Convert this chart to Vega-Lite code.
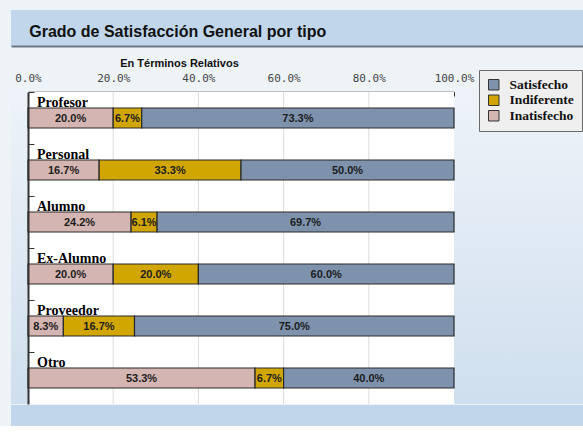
{
  "$schema": "https://vega.github.io/schema/vega-lite/v6.json",
  "background": "#eef3f8",
  "padding": {"left": 8, "top": 10, "right": 0, "bottom": 0},
  "config": {
    "view": {"stroke": null},
    "axisX": {"domainColor": "#333333", "domainWidth": 1.5, "tickColor": "#333333", "tickSize": -4, "labelFont": "DejaVu Sans Mono", "labelFontSize": 11, "labelColor": "#444444", "labelPadding": 13, "labelFlush": false, "grid": false, "titleFont": "Liberation Sans", "titleFontSize": 11, "titleFontWeight": "bold", "titleColor": "#111111"},
    "axisY": {"domainColor": "#333333", "domainWidth": 2, "tickColor": "#333333", "tickSize": -6, "labels": false, "grid": false, "title": null}
  },
  "datasets": {
    "satisf": [
      {"tipo": "Profesor", "nivel": "Inatisfecho", "valor": 0.2},
      {"tipo": "Profesor", "nivel": "Indiferente", "valor": 0.067},
      {"tipo": "Profesor", "nivel": "Satisfecho", "valor": 0.733},
      {"tipo": "Personal", "nivel": "Inatisfecho", "valor": 0.167},
      {"tipo": "Personal", "nivel": "Indiferente", "valor": 0.333},
      {"tipo": "Personal", "nivel": "Satisfecho", "valor": 0.5},
      {"tipo": "Alumno", "nivel": "Inatisfecho", "valor": 0.242},
      {"tipo": "Alumno", "nivel": "Indiferente", "valor": 0.061},
      {"tipo": "Alumno", "nivel": "Satisfecho", "valor": 0.697},
      {"tipo": "Ex-Alumno", "nivel": "Inatisfecho", "valor": 0.2},
      {"tipo": "Ex-Alumno", "nivel": "Indiferente", "valor": 0.2},
      {"tipo": "Ex-Alumno", "nivel": "Satisfecho", "valor": 0.6},
      {"tipo": "Proveedor", "nivel": "Inatisfecho", "valor": 0.083},
      {"tipo": "Proveedor", "nivel": "Indiferente", "valor": 0.167},
      {"tipo": "Proveedor", "nivel": "Satisfecho", "valor": 0.75},
      {"tipo": "Otro", "nivel": "Inatisfecho", "valor": 0.533},
      {"tipo": "Otro", "nivel": "Indiferente", "valor": 0.067},
      {"tipo": "Otro", "nivel": "Satisfecho", "valor": 0.4}
    ],
    "grid": [{"g": 0.2}, {"g": 0.4}, {"g": 0.6}, {"g": 0.8}]
  },
  "spacing": 11,
  "vconcat": [
    {
      "width": 575,
      "height": 36,
      "view": {"fill": "#c1d6ea", "stroke": null},
      "title": {"text": "Grado de Satisfacción General por tipo", "anchor": "start", "offset": -30, "dx": 21, "font": "Liberation Sans", "fontSize": 16, "fontWeight": "bold", "color": "#111111"},
      "data": {"values": [{"h": 0}]},
      "mark": {"type": "point", "opacity": 0},
      "encoding": {
        "x": {"field": "h", "type": "quantitative", "scale": {"domain": [0, 1]}, "axis": {"orient": "bottom", "domain": true, "domainColor": "#6b7888", "domainWidth": 2, "ticks": false, "labels": false, "grid": false, "title": null}}
      }
    },
    {
      "spacing": 0,
      "vconcat": [
        {
          "width": 575,
          "height": 312,
          "view": {"fill": {"gradient": "linear", "x1": 0, "y1": 0, "x2": 0, "y2": 1, "stops": [{"offset": 0, "color": "#eef3f9"}, {"offset": 1, "color": "#cfdfee"}]}, "stroke": null},
          "data": {"name": "satisf"},
          "layer": [
            {
              "transform": [{"filter": "datum.nivel === 'Satisfecho'"}],
              "mark": {"type": "rect", "fill": "#ffffff"},
              "encoding": {
                "y": {"field": "tipo", "type": "nominal", "sort": ["Profesor", "Personal", "Alumno", "Ex-Alumno", "Proveedor", "Otro"], "scale": {"paddingInner": 0, "paddingOuter": 0}, "axis": {"offset": -17, "bandPosition": 0}},
                "x": {"datum": 0, "type": "quantitative", "title": "En Términos Relativos", "scale": {"domain": [0, 1], "range": [17, 443], "nice": false, "zero": false}},
                "x2": {"datum": 1}
              }
            },
            {
              "data": {"name": "grid"},
              "mark": {"type": "rule", "color": "#dcdcdc", "strokeWidth": 1},
              "encoding": {
                "x": {"field": "g", "type": "quantitative", "title": "En Términos Relativos"}
              }
            },
            {
              "transform": [
                {"stack": "valor", "groupby": ["tipo"], "sort": [{"field": "nivel", "order": "ascending"}], "as": ["v0", "v1"]}
              ],
              "mark": {"type": "bar", "height": 20, "stroke": "#2a2a2a", "strokeWidth": 1.2},
              "encoding": {
                "y": {"field": "tipo", "type": "nominal", "sort": ["Profesor", "Personal", "Alumno", "Ex-Alumno", "Proveedor", "Otro"]},
                "x": {"field": "v0", "type": "quantitative", "title": "En Términos Relativos", "axis": {"orient": "top", "values": [0, 0.1, 0.2, 0.3, 0.4, 0.5, 0.6, 0.7, 0.8, 0.9, 1], "format": ".1%", "labelExpr": "round(datum.value * 10) % 2 === 0 ? datum.label : ''", "titleX": 168, "titleY": -26, "titleBaseline": "alphabetic", "titleAlign": "center", "titleAnchor": null}},
                "x2": {"field": "v1"},
                "color": {
                  "field": "nivel",
                  "type": "nominal",
                  "scale": {"domain": ["Satisfecho", "Indiferente", "Inatisfecho"], "range": ["#7e92ad", "#d2a600", "#d4b5b1"]},
                  "legend": {"title": null, "orient": "none", "legendX": 468, "legendY": 60, "fillColor": "#efefef", "strokeColor": "#6a6a6a", "padding": 8, "symbolType": "square", "symbolSize": 110, "symbolStrokeColor": "#333333", "symbolStrokeWidth": 1, "symbolOpacity": 1, "labelFont": "Liberation Serif", "labelFontWeight": "bold", "labelFontSize": 13.5, "labelColor": "#111111", "rowPadding": 0.5, "labelOffset": 9}
                }
              }
            },
            {
              "transform": [
                {"stack": "valor", "groupby": ["tipo"], "sort": [{"field": "nivel", "order": "ascending"}], "as": ["v0", "v1"]},
                {"calculate": "(datum.v0 + datum.v1) / 2", "as": "vm"}
              ],
              "mark": {"type": "text", "font": "Liberation Sans", "fontWeight": "bold", "fontSize": 11, "color": "#1c1c1c", "baseline": "middle", "dy": 1},
              "encoding": {
                "y": {"field": "tipo", "type": "nominal", "sort": ["Profesor", "Personal", "Alumno", "Ex-Alumno", "Proveedor", "Otro"]},
                "x": {"field": "vm", "type": "quantitative", "title": "En Términos Relativos"},
                "text": {"field": "valor", "type": "quantitative", "format": ".1%"}
              }
            },
            {
              "transform": [{"filter": "datum.nivel === 'Satisfecho'"}],
              "mark": {"type": "text", "font": "Liberation Serif", "fontWeight": "bold", "fontSize": 14, "color": "#000000", "align": "left", "baseline": "alphabetic", "dx": 9, "dy": -11.5},
              "encoding": {
                "y": {"field": "tipo", "type": "nominal", "sort": ["Profesor", "Personal", "Alumno", "Ex-Alumno", "Proveedor", "Otro"]},
                "x": {"datum": 0, "type": "quantitative", "title": "En Términos Relativos"},
                "text": {"field": "tipo", "type": "nominal"}
              }
            }
          ]
        },
        {
          "width": 575,
          "height": 21,
          "view": {"fill": "#c1d6ea", "stroke": null},
          "data": {"values": [{"h": 0}]},
          "mark": {"type": "point", "opacity": 0},
          "encoding": {}
        }
      ]
    }
  ]
}
